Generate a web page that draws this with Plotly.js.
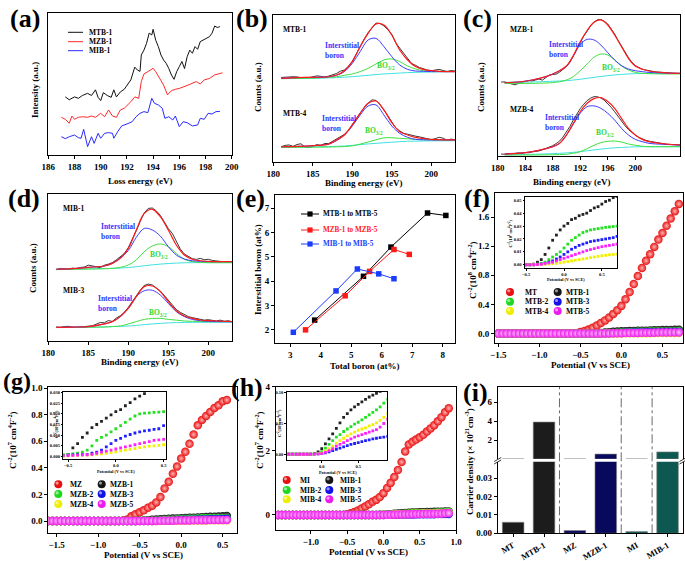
<!DOCTYPE html>
<html><head><meta charset="utf-8">
<script src="https://cdn.plot.ly/plotly-3.0.1.min.js"></script>
<style>html,body{margin:0;padding:0;background:#fff;}#chart{width:685px;height:561px;}</style>
</head><body><div id="chart"></div>
<script>
// ================= DATA =================
// (a) EELS spectra (intensity, a.u.)
const aX_MTB1=[187.3,187.6,188.0,188.3,188.6,189.0,189.3,189.6,189.8,190.0,190.2,190.5,190.8,191.0,191.2,191.5,191.8,192.0,192.3,192.6,192.8,193.0,193.1,193.3,193.5,193.7,193.9,194.0,194.2,194.4,194.6,194.8,195.0,195.2,195.4,195.6,195.8,196.0,196.2,196.4,196.6,196.8,197.0,197.2,197.4,197.6,197.8,198.0,198.3,198.5,198.7,198.9,199.1];
const aY_MTB1=[41,39,41,40,42,43.5,42,46,40.7,38.4,44,42,40.7,46,41,44.5,46.4,49.4,53,62,60,59,70.6,74,78.8,86,84.7,88.7,81,76.5,70.6,67,64.7,61,56.5,53.4,58.8,62.4,66,61,69.4,74,71.8,76.5,74.6,80,81,82.4,83.5,86,91,90,90.6];
const aX_MZB1=[187.0,187.3,187.6,187.8,188.0,188.3,188.6,189.0,189.3,189.6,190.0,190.3,190.6,190.9,191.2,191.5,191.8,192.0,192.3,192.6,192.9,193.1,193.3,193.6,193.8,194.0,194.2,194.5,194.8,195.1,195.4,195.7,196.0,196.5,197.0,197.3,197.6,197.9,198.3,198.7,199.3];
const aY_MZB1=[26.6,25.2,22.4,27.5,25.2,26.6,27,26.6,27.5,26.6,29.4,27,31.8,27.5,26.6,31.8,33,34.6,37.6,41,40,51.8,57.2,58.8,60,61.2,58.8,54,49.4,42.4,45.4,46.4,47,48.7,50.6,51.8,50.1,53,54,56.5,58];
const aX_MIB1=[187.0,187.3,187.6,188.0,188.3,188.5,188.7,189.0,189.3,189.5,189.8,190.0,190.3,190.6,190.9,191.0,191.3,191.6,192.0,192.4,192.7,193.0,193.3,193.6,193.9,194.1,194.4,194.7,194.9,195.2,195.5,195.7,196.0,196.3,196.6,197.0,197.4,197.6,197.9,198.2,198.5,198.8,199.1];
const aY_MIB1=[12.9,11.5,12.9,14.1,12.2,11.8,18.1,5.9,12.9,8.2,15.3,11.8,15.3,15.8,15.3,11.8,16.5,20.5,21.9,23.5,27,29.4,30.6,29.9,40,36.5,35.3,33,25.9,27,24.7,27.5,20,23.5,22.8,20.5,21.2,25.9,25.2,29.4,28.9,30.6,30.8];

// (b),(d) XPS: raw data grid and fit grid (binding energy, eV)
const rawX_bd=[181,181.5,182,182.5,183,183.5,184,184.5,185,185.5,186,186.5,187,187.5,188,188.5,189,189.5,190,190.5,191,191.5,192,192.5,193,193.5,194,194.5,195,195.5,196,196.5,197,197.5,198,198.5,199,199.5,200,200.5,201,201.5,202,202.5,203];
const fitX_bd=[181,183,185,187,188,189,190,191,192,193,194,195,196,197,198,199,200,201,203];
// (b) MTB-1 (upper) and MTB-4 (lower)
const bRaw1=[57.5,57.8,58.2,58,57.9,57.2,56.8,57.3,57.9,58.6,58.3,57.8,58.4,59.3,60.2,61.8,62.6,65,68.5,73.5,78.8,83.6,88,91.6,94.5,94.2,92.6,90,86.8,81,77.5,74.8,70.6,67,65.8,64.3,63.5,62.5,62.1,62.8,63,62.2,61.6,62.2,61.9];
const bEnv1=[56.9,57.4,57.6,58,59.2,62.1,68.3,78.5,87.5,93.9,93.2,86.4,76.2,69.4,64.9,63,62.1,61.7,61.5];
const bInt1=[56.9,57.4,57.6,58,59,61.5,67.1,75.1,83,84.1,78.5,71.7,66,63,61.9,61.7,61.5,61.5,61.5];
const bBO1=[56.7,56.9,57.1,57.6,58,59,59.9,61.5,63.7,66.7,69.4,70.1,68.3,65.3,63.3,62.1,61.9,61.7,61.5];
const bBg1=[56.7,56.8,56.9,57.2,57.4,57.7,58,58.5,59,59.5,59.9,60.2,60.5,60.8,61,61.1,61.2,61.3,61.5];
const bRaw2=[10.4,11.3,11.6,10.6,11.9,12.4,10.2,9.8,10.6,11.8,11.2,12.6,12.5,14,15.5,17,18.8,21.5,25.6,29.6,33.4,36.8,40.1,42.3,41.9,39.1,35.7,31.5,27.3,23.2,21.2,19.5,18.9,18.1,17.6,17.1,16.4,15.7,15.2,15.9,16.8,16.2,14.8,15.6,15.1];
const bEnv2=[10.4,10.6,11.1,12.2,15,18.4,25.2,33.1,39.9,41.5,35.4,26.8,20.6,18.4,16.8,16,15.4,15.2,15];
const bInt2=[10.4,10.6,11.1,12.2,14.5,18.4,24.5,32,38.1,38.8,32,24.5,19.5,16.8,15.4,15.1,15,15,15];
const bBO2=[10,10,10.1,10.2,10.3,10.5,11,12.2,13.6,15.1,16.4,16.5,16.1,15.8,15.4,15.2,15.1,15,15];
const bBg2=[10,10.1,10.3,10.5,10.7,10.9,11.3,11.8,12.3,12.7,13.1,13.5,13.8,14.1,14.2,14.3,14.4,14.4,14.5];
// (c) MZB-1 (upper) and MZB-4 (lower)
const rawX_c=[180.5,181,181.5,182,182.5,183,183.5,184,184.5,185,185.5,186,186.5,187,187.5,188,188.5,189,189.5,190,190.5,191,191.5,192,192.5,193,193.5,194,194.5,195,195.5,196,196.5,197,197.5,198,198.5,199,199.5,200,200.5,201,201.5,202,202.5,203,203.5,204,204.5,205,205.5,206,206.5];
const fitX_c=[181,183,185,187,188,189,190,191,192,193,194,195,196,197,198,199,200,201,202,204,206.5];
const cRaw1=[52.4,52.6,51.8,50.9,50.5,51.4,52.3,52.9,53.4,53.2,53.9,54.6,53.8,55.6,57.4,57.8,58.1,59.5,61.5,63.5,66.5,71.5,76,80.5,84.9,88.9,92.2,95,96.6,96.8,95.5,93.6,90.2,86.5,82,77.8,73.4,69.8,66.5,64.2,62.8,61.6,61,60.4,60,59.6,59.5,59.2,59,58.9,58.7,58.6,58.6];
const cEnv1=[52.0,52.5,53.9,56.3,58.2,60.5,63.8,71.2,81,89,94.8,96.5,92.9,85.8,77.5,69.3,63.8,61.5,60.3,59.1,58.6];
const cInt1=[52,52.5,53.9,56.3,58.2,60.5,63.8,70.9,79.2,82.7,82.3,78.7,73.3,68.1,64.1,61.7,60.5,59.8,59.3,58.9,58.6];
const cBO1=[51.5,51.5,51.5,51.8,52,52.7,53.9,56.3,60.5,65.2,70,72.3,71.6,68.1,63.8,61,59.3,58.6,58.4,58.2,58.2];
const cBg1=[52.2,52.4,52.5,52.8,53,53.2,53.4,53.9,54.4,55.1,55.8,56.4,57,57.5,57.9,58.2,58.4,58.5,58.6,58.6,58.6];
const cRaw2=[1.4,1.2,1.7,1.6,1.9,2.2,2.0,2.4,2.3,2.9,3.1,3.6,4.4,5.3,6.2,7.3,8.8,10.6,13.5,17,21,25.6,29.9,33.6,36.7,39.3,41,42.1,42,41.2,39.5,37.2,34.5,31.4,28,25,21.5,18.8,16.7,14.8,13.3,12.1,11.2,10.5,10,9.4,9.0,8.7,8.4,8.2,8.0,7.9,7.8];
const cEnv2=[1.4,1.9,3.1,5.2,6.6,9.0,14.9,23.2,31.4,37.4,40.7,41.4,38.6,33.8,26.7,19.6,14.9,11.8,10.2,8.7,7.8];
const cInt2=[1.4,1.9,3.1,5.2,6.6,9.0,14.9,22.7,30.3,35,35.5,33.8,30.3,25.5,19.6,14.9,11.8,10.2,9,8.3,7.8];
const cBO2=[0.7,0.7,0.7,0.8,0.9,1.0,1.2,1.9,3.1,5.2,7.6,9.5,10.4,10.6,9.9,8.5,7.6,6.9,6.6,6.6,6.6];
const cBg2=[0.9,1.0,1.2,1.5,1.7,1.9,2.2,2.6,3.1,3.7,4.3,4.9,5.4,5.8,6.1,6.3,6.5,6.6,6.6,6.6,6.6];
// (d) MIB-1 (upper) and MIB-3 (lower)
const dRaw1=[48.5,49.4,49.1,48.7,49.6,49.2,50,50.3,51.6,51.2,50.5,49.8,51.5,52.3,53.3,55.2,57.3,59.5,63.5,69,75,81.5,87.2,90.2,90.5,88.5,85.5,81,76.5,73.2,68,62.5,59.2,57.8,56,55.5,56.2,55.3,55.6,54.8,54.5,54.3,54,53.5,54.2];
const dEnv1=[48.8,49.2,50.1,51,52.8,56.2,63,75.5,86.8,89.6,84.6,75.5,65.3,58.5,55.6,54.6,54.2,54,54];
const dInt1=[48.8,49.2,50.1,51,52.8,56.6,61.5,70.5,76.6,75.5,71.4,64.2,58.5,55.8,54.6,54.2,54,54,54];
const dBO1=[48.8,48.8,49,49.2,49.4,50.1,51.7,55.1,60.8,64.6,66,64.2,59.6,55.6,54,53.5,53.3,53.3,53.3];
const dBg1=[48.8,48.9,49,49.2,49.4,49.6,50,50.5,51.2,51.8,52.3,52.7,53,53.2,53.3,53.3,53.3,53.3,53.3];
const dRaw2=[9.5,9.2,9.8,10,9.4,9.2,9.6,9.8,10,10.3,11.5,12.6,12.4,13.9,13.3,15.6,17.2,19.5,22.9,27,30.9,34.6,37.8,38.7,38.1,36.3,34,31,27.6,24.1,21.4,19.5,17.8,16.6,15.9,15.2,14.6,14.2,14.5,13.9,13.6,14.2,13.4,13.8,13.1];
const dEnv2=[9.3,9.5,9.8,11.6,13.2,16.6,22.2,30.2,37,37.4,33.6,26.8,20.6,17,15.4,14.3,13.8,13.6,13.2];
const dInt2=[9.3,9.5,9.8,11.6,13.2,16.6,22.2,30.2,34.2,34.5,31.3,25.6,20,16.6,14.7,13.8,13.4,13.2,13.2];
const dBO2=[9.3,9.3,9.4,9.5,9.8,10.2,11.6,13.2,14.7,15.3,15.4,14.7,14.2,13.6,13.4,13.3,13.2,13.2,13.2];
const dBg2=[9.1,9.2,9.3,9.6,9.8,10,10.2,10.6,11.1,11.6,12,12.3,12.5,12.6,12.7,12.7,12.7,12.7,12.7];

// (e) interstitial boron vs total boron (at%)
const eTotal_MTB=[3.8,5.4,6.3,7.5,8.1], eInter_MTB=[2.4,4.2,5.4,6.8,6.7];
const eTotal_MZB=[3.5,4.8,5.6,6.4,6.9], eInter_MZB=[2.0,3.4,4.4,5.3,5.1];
const eTotal_MIB=[3.1,4.5,5.2,5.9,6.4], eInter_MIB=[1.9,3.6,4.5,4.3,4.1];

// (f) Mott-Schottky, MT series (C^-2, 10^8 cm^4 F^-2) vs potential (V vs SCE)
const fX=[-1.5,-1.45,-1.4,-1.35,-1.3,-1.25,-1.2,-1.15,-1.1,-1.05,-1,-0.95,-0.9,-0.85,-0.8,-0.75,-0.7,-0.65,-0.6,-0.55,-0.5,-0.45,-0.4,-0.35,-0.3,-0.25,-0.2,-0.15,-0.1,-0.05,0,0.05,0.1,0.15,0.2,0.25,0.3,0.35,0.4,0.45,0.5,0.55,0.6,0.65,0.7];
const fMT=[0,0,0,0,0,0,0,0,0,0,0,0,0,0,0,0,0,0,0,0.005,0.02,0.035,0.055,0.08,0.11,0.145,0.18,0.22,0.27,0.32,0.38,0.47,0.57,0.68,0.79,0.90,1.0,1.09,1.19,1.29,1.38,1.48,1.58,1.68,1.78];
const fMTB1=[0,0,0,0,0,0,0,0,0,0,0,0,0,0,0,0,0,0,0,0,0,0,0.0005,0.002,0.004,0.008,0.013,0.019,0.023,0.027,0.030,0.032,0.035,0.036,0.038,0.039,0.040,0.042,0.044,0.045,0.047,0.049,0.050,0.052,0.053];
const fMTB2=[0,0,0,0,0,0,0,0,0,0,0,0,0,0,0,0,0,0,0,0,0,0,0,0.0005,0.001,0.002,0.004,0.006,0.008,0.010,0.013,0.016,0.019,0.021,0.023,0.025,0.026,0.027,0.0275,0.028,0.0285,0.029,0.0293,0.0296,0.030];
const fMTB3=[0,0,0,0,0,0,0,0,0,0,0,0,0,0,0,0,0,0,0,0,0,0,0,0.0003,0.0005,0.001,0.002,0.003,0.0045,0.006,0.008,0.010,0.012,0.0135,0.015,0.016,0.017,0.018,0.0185,0.019,0.0195,0.020,0.0205,0.021,0.022];
const fMTB4=[0,0,0,0,0,0,0,0,0,0,0,0,0,0,0,0,0,0,0,0,0,0,0,0.0001,0.0002,0.0004,0.0006,0.0008,0.001,0.0015,0.002,0.0025,0.003,0.0035,0.004,0.0045,0.005,0.0055,0.006,0.0065,0.007,0.0073,0.0077,0.008,0.0083];
const fMTB5=[0,0,0,0,0,0,0,0,0,0,0,0,0,0,0,0,0,0,0,0,0,0,0,0.0002,0.0004,0.001,0.0015,0.002,0.003,0.004,0.005,0.006,0.007,0.008,0.009,0.010,0.011,0.0118,0.0125,0.0133,0.014,0.0145,0.015,0.0155,0.016];

// (g) MZ series (10^7 cm^4 F^-2)
const gX=[-1.6,-1.55,-1.5,-1.45,-1.4,-1.35,-1.3,-1.25,-1.2,-1.15,-1.1,-1.05,-1,-0.95,-0.9,-0.85,-0.8,-0.75,-0.7,-0.65,-0.6,-0.55,-0.5,-0.45,-0.4,-0.35,-0.3,-0.25,-0.2,-0.15,-0.1,-0.05,0,0.05,0.1,0.15,0.2,0.25,0.3,0.35,0.4,0.45,0.5,0.55];
const gMZ=[0,0,0,0,0,0,0,0,0,0,0,0,0,0,0,0,0,0,0.003,0.012,0.035,0.05,0.065,0.08,0.10,0.115,0.14,0.18,0.245,0.295,0.355,0.41,0.47,0.52,0.58,0.65,0.72,0.76,0.79,0.82,0.85,0.87,0.90,0.91];
const gMZB1=[0,0,0,0,0,0,0,0,0,0,0,0,0,0,0,0,0,0,0,0,0.0003,0.0005,0.001,0.004,0.006,0.009,0.011,0.0135,0.015,0.0165,0.018,0.0195,0.021,0.022,0.0238,0.0253,0.027,0.0283,0.0295,0.031,0.0325,0.034,0.0355,0.037];
const gMZB2=[0,0,0,0,0,0,0,0,0,0,0,0,0,0,0,0,0,0,0,0,0.0005,0.0008,0.001,0.0012,0.0015,0.002,0.003,0.005,0.0075,0.009,0.010,0.0115,0.013,0.0145,0.016,0.0175,0.019,0.020,0.0203,0.0205,0.0207,0.0208,0.021,0.021];
const gMZB3=[0,0,0,0,0,0,0,0,0,0,0,0,0,0,0,0,0,0,0,0,0.0003,0.0005,0.0006,0.0007,0.0008,0.0009,0.001,0.0015,0.002,0.003,0.0045,0.006,0.0075,0.0085,0.0095,0.0103,0.011,0.0115,0.012,0.0123,0.0127,0.013,0.0145,0.017];
const gMZB4=[0,0,0,0,0,0,0,0,0,0,0,0,0,0,0,0,0,0,0,0,0.0001,0.0002,0.0003,0.0004,0.0005,0.0005,0.0006,0.0008,0.001,0.0012,0.0015,0.0018,0.0022,0.0026,0.003,0.0033,0.0037,0.0041,0.0045,0.0048,0.005,0.0052,0.0055,0.0057];
const gMZB5=[0,0,0,0,0,0,0,0,0,0,0,0,0,0,0,0,0,0,0,0,0.0002,0.0003,0.0004,0.0005,0.0006,0.0007,0.0008,0.001,0.0015,0.002,0.0025,0.003,0.0035,0.004,0.0045,0.005,0.0055,0.006,0.0065,0.007,0.0075,0.0078,0.008,0.0083];

// (h) MI series (10^7 cm^4 F^-2)
const hX=[-1.45,-1.4,-1.35,-1.3,-1.25,-1.2,-1.15,-1.1,-1.05,-1,-0.95,-0.9,-0.85,-0.8,-0.75,-0.7,-0.65,-0.6,-0.55,-0.5,-0.45,-0.4,-0.35,-0.3,-0.25,-0.2,-0.15,-0.1,-0.05,0,0.05,0.1,0.15,0.2,0.25,0.3,0.35,0.4,0.45,0.5,0.55,0.6,0.65,0.7,0.75,0.8,0.85,0.9];
const hMI=[0,0,0,0,0,0,0,0,0,0,0,0,0,0,0,0,0,0,0,0.02,0.05,0.09,0.14,0.2,0.26,0.33,0.41,0.47,0.56,0.68,0.84,1.0,1.18,1.4,1.65,1.98,2.2,2.28,2.35,2.42,2.5,2.6,2.7,2.8,2.92,3.05,3.2,3.33];
const hMIB1=[0,0,0,0,0,0,0,0,0,0,0,0,0,0,0,0,0,0,0,0,0,0,0,0,0,0,0,0.001,0.004,0.009,0.017,0.025,0.033,0.042,0.051,0.060,0.066,0.072,0.077,0.081,0.085,0.089,0.093,0.096,0.099,0.102,0.105,0.108];
const hMIB2=[0,0,0,0,0,0,0,0,0,0,0,0,0,0,0,0,0,0,0,0,0,0,0,0,0,0,0,0.0005,0.001,0.004,0.010,0.016,0.022,0.028,0.032,0.037,0.041,0.045,0.049,0.052,0.056,0.060,0.064,0.068,0.072,0.077,0.083,0.089];
const hMIB3=[0,0,0,0,0,0,0,0,0,0,0,0,0,0,0,0,0,0,0,0,0,0,0,0,0,0,0,0.0002,0.0005,0.001,0.0025,0.004,0.006,0.008,0.010,0.012,0.014,0.016,0.0175,0.019,0.0205,0.022,0.0235,0.025,0.026,0.027,0.028,0.029];
const hMIB4=[0,0,0,0,0,0,0,0,0,0,0,0,0,0,0,0,0,0,0,0,0,0,0,0,0,0,0,0.0003,0.001,0.002,0.005,0.009,0.013,0.018,0.022,0.026,0.030,0.033,0.036,0.039,0.041,0.043,0.046,0.048,0.051,0.055,0.060,0.066];
const hMIB5=[0,0,0,0,0,0,0,0,0,0,0,0,0,0,0,0,0,0,0,0,0,0,0,0,0,0,0,0.0002,0.0005,0.001,0.003,0.006,0.009,0.013,0.016,0.019,0.022,0.025,0.028,0.030,0.032,0.034,0.036,0.038,0.040,0.044,0.050,0.057];

// (i) carrier density (x10^21 cm^-3)
const iSamples=['MT','MTB-1','MZ','MZB-1','MI','MIB-1'];
const iDensity=[0.006,3.9,0.0015,0.52,0.001,0.75];

// ================= STYLE / LAYOUT =================
const W=685,H=561;
const SERIF='"Liberation Serif","Times New Roman",serif';
const xd=(a,b)=>[a/W,b/W];
const yd=(t,b)=>[1-b/H,1-t/H];
const PX=x=>x/W, PY=y=>1-y/H;

function axis(dom,range,extra){
  return Object.assign({domain:dom,range:range,showline:true,linecolor:'#000',linewidth:1,mirror:true,
    ticks:'outside',ticklen:3,tickwidth:1,tickcolor:'#000',showgrid:false,zeroline:false,fixedrange:true,
    tickfont:{family:SERIF,size:9,color:'#000',weight:'bold'}},extra||{});
}
const inFont={family:SERIF,size:4.5,color:'#000',weight:'bold'};
const noY={showticklabels:false,ticks:''};

const layout={
  width:W,height:H,margin:{l:0,r:0,t:0,b:0,pad:0},paper_bgcolor:'#fff',plot_bgcolor:'#fff',
  showlegend:false,font:{family:SERIF,color:'#000'},
  xaxis:axis(xd(48.3,231.7),[186,200],{anchor:'y',dtick:2,tick0:186}),
  yaxis:axis(yd(13.3,155),[0,100],Object.assign({anchor:'x'},noY)),
  xaxis2:axis(xd(273.3,455),[180,203],{anchor:'y2',dtick:5,tick0:180}),
  yaxis2:axis(yd(15,162),[0,100],Object.assign({anchor:'x2'},noY)),
  xaxis3:axis(xd(497.7,680),[180,206.5],{anchor:'y3',tickvals:[180,184,188,192,196,200]}),
  yaxis3:axis(yd(15,156),[0,100],Object.assign({anchor:'x3'},noY)),
  xaxis4:axis(xd(48.3,232.3),[180,203],{anchor:'y4',dtick:5,tick0:180}),
  yaxis4:axis(yd(194,341),[0,100],Object.assign({anchor:'x4'},noY)),
  xaxis5:axis(xd(275,455),[2.5,8.4],{anchor:'y5',dtick:1,tick0:3}),
  yaxis5:axis(yd(195,343),[1.46,7.54],{anchor:'x5',dtick:1,tick0:2}),
  xaxis6:axis(xd(495,683),[-1.54,0.75],{anchor:'y6',dtick:0.5,tick0:0,tickformat:'.1f'}),
  yaxis6:axis(yd(193,343.3),[-0.134,1.93],{anchor:'x6',dtick:0.4,tick0:0,tickformat:'.1f'}),
  xaxis7:axis(xd(525,617),[-0.515,0.70],{anchor:'y7',dtick:0.5,tick0:0,tickformat:'.1f',tickfont:inFont,ticklen:1.5}),
  yaxis7:axis(yd(197,268),[-0.0025,0.0525],{anchor:'x7',dtick:0.01,tick0:0,tickformat:'.2f',tickfont:inFont,ticklen:1.5}),
  xaxis8:axis(xd(48.3,237),[-1.6,0.672],{anchor:'y8',dtick:0.5,tick0:0,tickformat:'.1f'}),
  yaxis8:axis(yd(387,533.3),[-0.0925,1.0075],{anchor:'x8',dtick:0.2,tick0:0,tickformat:'.1f'}),
  xaxis9:axis(xd(63.3,165.5),[-0.55,0.52],{anchor:'y9',dtick:0.5,tick0:0,tickformat:'.1f',tickfont:inFont,ticklen:1.5}),
  yaxis9:axis(yd(391.7,459),[-0.0012,0.0304],{anchor:'x9',dtick:0.005,tick0:0,tickformat:'.3f',tickfont:inFont,ticklen:1.5}),
  xaxis10:axis(xd(275.7,456),[-1.484,1.0],{anchor:'y10',dtick:0.5,tick0:0,tickformat:'.1f'}),
  yaxis10:axis(yd(386.7,530),[-0.47,4.0],{anchor:'x10',dtick:2,tick0:0}),
  xaxis11:axis(xd(286.7,386.7),[-0.48,0.89],{anchor:'y11',dtick:0.5,tick0:0,tickformat:'.1f',tickfont:inFont,ticklen:1.5}),
  yaxis11:axis(yd(391.7,460),[-0.0093,0.1016],{anchor:'x11',dtick:0.05,tick0:0,tickformat:'.2f',tickfont:inFont,ticklen:1.5}),
  xaxis12:axis(xd(497.7,683),[-0.5,5.5],{anchor:'y12',type:'category',mirror:false,tickangle:-30,tickfont:{family:SERIF,size:8.5,color:'#000',weight:'bold'}}),
  yaxis12:axis(yd(461.7,533.3),[0,0.039],{anchor:'x12',dtick:0.01,tick0:0,tickformat:'.2f'}),
  xaxis13:axis(xd(497.7,683),[-0.5,5.5],{anchor:'y13',type:'category',mirror:false,side:'top',showticklabels:false,ticks:''}),
  yaxis13:axis(yd(387,459),[0,7.6],{anchor:'x13',tickvals:[2,4,6]}),
  bargap:0.3
};

const traces=[];
const T=(o)=>{o.showlegend=false;o.hoverinfo='skip';traces.push(o);};
function ln(x,y,xa,ya,color,w,spline){T({type:'scatter',mode:'lines',x,y,xaxis:xa,yaxis:ya,line:{color,width:w,shape:spline?'spline':'linear',smoothing:1}});}

// (a)
ln(aX_MTB1,aY_MTB1,'x','y','#111',1);
ln(aX_MZB1,aY_MZB1,'x','y','#ff2a2a',1);
ln(aX_MIB1,aY_MIB1,'x','y','#2a2aff',1);

// XPS panels
const XC={raw:'#222',env:'#ff1a1a',int:'#3c3cff',bo:'#3ee03e',bg:'#40e0e0'};
function xps(xa,ya,rx,raw,fx,env,inter,bo,bg){
  ln(rx,raw,xa,ya,XC.raw,0.9);
  ln(fx,bg,xa,ya,XC.bg,1,true);
  ln(fx,bo,xa,ya,XC.bo,1,true);
  ln(fx,inter,xa,ya,XC.int,1,true);
  ln(fx,env,xa,ya,XC.env,1.2,true);
}
xps('x2','y2',rawX_bd,bRaw1,fitX_bd,bEnv1,bInt1,bBO1,bBg1);
xps('x2','y2',rawX_bd,bRaw2,fitX_bd,bEnv2,bInt2,bBO2,bBg2);
xps('x3','y3',rawX_c,cRaw1,fitX_c,cEnv1,cInt1,cBO1,cBg1);
xps('x3','y3',rawX_c,cRaw2,fitX_c,cEnv2,cInt2,cBO2,cBg2);
xps('x4','y4',rawX_bd,dRaw1,fitX_bd,dEnv1,dInt1,dBO1,dBg1);
xps('x4','y4',rawX_bd,dRaw2,fitX_bd,dEnv2,dInt2,dBO2,dBg2);

// (e)
const EC=['#000','#ff1a1a','#1a3cff'];
[[eTotal_MTB,eInter_MTB],[eTotal_MZB,eInter_MZB],[eTotal_MIB,eInter_MIB]].forEach((s,i)=>{
  T({type:'scatter',mode:'lines+markers',x:s[0],y:s[1],xaxis:'x5',yaxis:'y5',line:{color:EC[i],width:1},marker:{symbol:'square',size:5.5,color:EC[i]}});
});

// Mott-Schottky
const BC=[['#e81010','#ffb3b3'],['#151515','#a8a8a8'],['#1fd81f','#d0ffd0'],['#1212e6','#a0a0ff'],['#eeee00','#ffffd8'],['#ec1aec','#ffc8ff']];
const IC=['#222','#22e022','#2020ff','#f0f000','#ff20ff'];
function balls(x,y,xa,ya,k){T({type:'scatter',mode:'markers',x,y,xaxis:xa,yaxis:ya,marker:{size:8.5,color:BC[k][0],gradient:{type:'radial',color:BC[k][1]},line:{width:0}}});}
function pts(x,y,xa,ya,k){T({type:'scatter',mode:'markers',x,y,xaxis:xa,yaxis:ya,marker:{size:2.8,symbol:'square',color:IC[k],line:{width:0}}});}
[fMT,fMTB1,fMTB2,fMTB3,fMTB4,fMTB5].forEach((y,k)=>balls(fX,y,'x6','y6',k));
[fMTB1,fMTB2,fMTB3,fMTB4,fMTB5].forEach((y,k)=>pts(fX,y,'x7','y7',k));
[gMZ,gMZB1,gMZB2,gMZB3,gMZB4,gMZB5].forEach((y,k)=>balls(gX,y,'x8','y8',k));
[gMZB1,gMZB2,gMZB3,gMZB4,gMZB5].forEach((y,k)=>pts(gX,y,'x9','y9',k));
[hMI,hMIB1,hMIB2,hMIB3,hMIB4,hMIB5].forEach((y,k)=>balls(hX,y,'x10','y10',k));
[hMIB1,hMIB2,hMIB3,hMIB4,hMIB5].forEach((y,k)=>pts(hX,y,'x11','y11',k));

// (i)
const barColors=['#1c1c1c','#1c1c1c','#08085c','#08085c','#0d5850','#0d5850'];
T({type:'bar',x:iSamples,y:iDensity,xaxis:'x12',yaxis:'y12',width:0.7,marker:{color:barColors,line:{width:0.6,color:'#888'}}});
T({type:'bar',x:iSamples,y:iDensity,xaxis:'x13',yaxis:'y13',width:0.7,marker:{color:barColors,line:{width:0.6,color:'#888'}}});

// ---------- annotations & shapes ----------
const ann=[];
function A(text,x,y,o){ann.push(Object.assign({text,x:PX(x),y:PY(y),xref:'paper',yref:'paper',showarrow:false,xanchor:'center',yanchor:'middle',
  font:{family:SERIF,size:9,color:'#000',weight:'bold'}},o||{}));}
function F(size,color){return {family:SERIF,size:size,color:color||'#000',weight:'bold'};}
// panel labels
[['(a)',25,18],['(b)',252,18],['(c)',477,18],['(d)',24,198],['(e)',250,198],['(f)',477,198],['(g)',17,381],['(h)',247,387],['(i)',475,392]]
 .forEach(p=>A(p[0],p[1],p[2],{font:F(p[0]==='(g)'?24:26)}));
// axis titles
const V={textangle:-90};
A('Loss energy (eV)',140,181); A('Intensity (a.u.)',35,90,V);
A('Binding energy (eV)',364,183); A('Counts (a.u.)',258,87,V);
A('Binding energy (eV)',572,182); A('Counts (a.u.)',481,87,V);
A('Binding energy (eV)',140,362); A('Counts (a.u.)',33,268,V);
A('Total boron (at%)',365,365.5); A('Interstitial boron (at%)',258,270,V);
const MS8='C<sup>-2</sup>(10<sup>8</sup> cm<sup>4</sup>F<sup>-2</sup>)', MS7='C<sup>-2</sup>(10<sup>7</sup> cm<sup>4</sup>F<sup>-2</sup>)';
A('Potential (V vs SCE)',590,365); A(MS8,472,270,V);
A('Potential (V vs SCE)',143,555); A(MS7,12,440,V);
A('Potential (V vs SCE)',368,552); A(MS7,259,440,V);
A('Carrier density (× 10<sup>21</sup>cm<sup>-3</sup>)',469,462,V);
// inset titles
A('Potential (V vs SCE)',566,279.5,{font:F(4.3)}); A(MS8,510.5,233,{textangle:-90,font:F(4.3)});
A('Potential (V vs SCE)',116,471.5,{font:F(4.3)}); A(MS7,56,424,{textangle:-90,font:F(4.3)});
A('Potential (V vs SCE)',338,472,{font:F(4.3)}); A(MS7,279,423,{textangle:-90,font:F(4.3)});
// XPS labels
const L={xanchor:'left',align:'left'};
function xpsLab(s,sx,sy,ix,iy,bx,by){
  A(s,sx,sy,{font:F(7.5)});
  A('Interstitial<br>boron',ix,iy,Object.assign({font:F(7.5,'#3333ff')},L));
  A('BO<sub>3/2</sub>',bx,by,{font:F(7.5,'#2ed82e')});
}
xpsLab('MTB-1',295,29,322.7,50.5,386,66); xpsLab('MTB-4',295,113,320,123.7,374,131);
xpsLab('MZB-1',521.7,29,546.7,49.5,611,68); xpsLab('MZB-4',521.7,110,543.3,122,605,133);
xpsLab('MIB-1',73.3,208.7,99.3,231,159,255); xpsLab('MIB-3',73.3,290,95.7,303,158,313.3);

const shapes=[];
function seg(x0,y0,x1,y1,color,w,dash){shapes.push({type:'line',xref:'paper',yref:'paper',x0:PX(x0),y0:PY(y0),x1:PX(x1),y1:PY(y1),line:{color,width:w,dash:dash||'solid'}});}
function circ(cx,cy,r,color){shapes.push({type:'circle',xref:'paper',yref:'paper',xsizemode:'pixel',ysizemode:'pixel',xanchor:PX(cx),yanchor:PY(cy),x0:-r,x1:r,y0:-r,y1:r,fillcolor:color,line:{width:0}});}
function sqr(cx,cy,r,color){shapes.push({type:'rect',xref:'paper',yref:'paper',xsizemode:'pixel',ysizemode:'pixel',xanchor:PX(cx),yanchor:PY(cy),x0:-r,x1:r,y0:-r,y1:r,fillcolor:color,line:{width:0}});}
// (a) legend
[['MTB-1','#111',32.3],['MZB-1','#ff2a2a',41.7],['MIB-1','#2a2aff',50.7]].forEach(r=>{seg(68,r[2],83,r[2],r[1],1);A(r[0],87.3,r[2],Object.assign({font:F(7.5)},L));});
// (e) legend
[['MTB-1 to MTB-5',EC[0],214],['MZB-1 to MZB-5',EC[1],230],['MIB-1 to MIB-5',EC[2],244]].forEach(r=>{seg(301,r[2],319,r[2],r[1],1);sqr(310,r[2],2.6,r[1]);A(r[0],321,r[2],Object.assign({font:F(7.2,r[1])},L));});
// ball legends
function ballLegend(names,cx,tx,rows){
  const order=[[0,0],[1,0],[0,1],[1,1],[0,2],[1,2]];
  order.forEach((cr,k)=>{const x=cx[cr[0]],y=rows[cr[1]];circ(x,y,4,BC[k][0]);circ(x-1.2,y-1.2,1.6,'rgba(255,255,255,0.55)');
    A(names[k],tx[cr[0]],y,Object.assign({font:F(7.5)},L));});
}
ballLegend(['MT','MTB-1','MTB-2','MTB-3','MTB-4','MTB-5'],[510,557.7],[523.3,564],[292,301.7,311]);
ballLegend(['MZ','MZB-1','MZB-2','MZB-3','MZB-4','MZB-5'],[58.3,101.7],[68.3,108.3],[484.3,494,504]);
ballLegend(['MI','MIB-1','MIB-2','MIB-3','MIB-4','MIB-5'],[286.7,329.3],[298.3,337.7],[480,490,499.3]);
// (i) separators and axis break
[1.5,3.5,4.5].forEach(p=>shapes.push({type:'line',xref:'x12',yref:'paper',x0:p,x1:p,y0:PY(533.3),y1:PY(387),line:{color:'#444',width:0.8,dash:'dashdot'}}));
[497.7,683].forEach(x=>{seg(x-3.5,461.5,x+3.5,457.5,'#000',0.8);seg(x-3.5,464,x+3.5,460,'#000',0.8);});

layout.annotations=ann; layout.shapes=shapes;
Plotly.newPlot('chart',traces,layout,{staticPlot:true,displayModeBar:false});
</script></body></html>
